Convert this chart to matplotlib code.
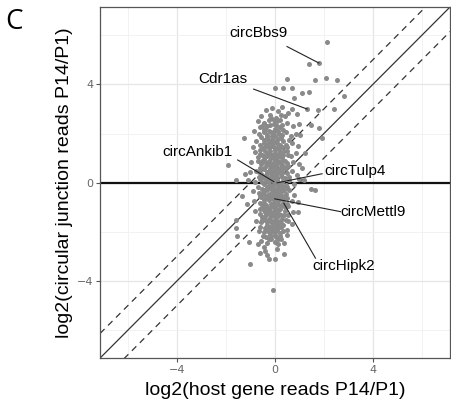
import numpy as np
import matplotlib.pyplot as plt

# log2 fold changes P14/P1: host gene (x) vs circular junction reads (y)
outer_x = [2.14, 1.80, 1.39, 0.51, 1.66, 2.11, 2.52, 0.00, 0.34, 0.72, 1.12, 1.40,
           0.78, 2.82, 1.32, 1.76, 2.41, 1.80, 1.49, 1.93, 1.05, -1.27, -1.90, -1.60,
           -1.13, -1.60, -1.60, -1.53, -0.99, -0.31, -0.24, 0.03, -0.07, 0.37, 0.37,
           0.50, 0.71, 0.95, 1.46, 1.66, 1.18, -1.20, -1.35, 1.10, 0.95, 1.25, -1.05]
outer_y = [5.74, 4.87, 4.84, 4.23, 4.16, 4.28, 4.16, 3.87, 3.87, 3.85, 3.65, 3.69,
           3.44, 3.51, 3.00, 2.97, 3.00, 2.22, 2.37, 1.82, 1.95, 1.82, 0.73, 0.12,
           -0.87, -1.50, -1.84, -2.18, -3.30, -2.93, -3.10, -3.10, -4.35, -2.45, -2.89,
           -1.91, -1.67, -0.78, -0.26, -0.31, 0.12, 0.35, -0.55, 0.60, -1.20, 1.20, -2.40]

core_upper = [
    (-0.35, 2.95), (-0.10, 3.05), (0.15, 2.90), (0.30, 3.10), (0.55, 2.85), (0.70, 3.00),
    (-0.55, 2.70), (-0.20, 2.75), (0.05, 2.65), (0.40, 2.70), (0.90, 2.80), (0.20, 2.55),
    (-0.70, 2.50), (-0.45, 2.45), (-0.25, 2.55), (-0.05, 2.40), (0.10, 2.50), (0.30, 2.35),
    (0.50, 2.45), (0.75, 2.30), (-0.60, 2.25), (-0.30, 2.30), (0.00, 2.20), (0.20, 2.25),
    (1.00, 2.40), (-0.85, 2.10), (-0.65, 2.00), (-0.45, 2.15), (-0.30, 1.95), (-0.15, 2.05),
    (0.00, 1.90), (0.15, 2.10), (0.30, 1.95), (0.45, 2.05), (0.65, 1.90), (0.85, 2.00),
    (-0.55, 1.85), (-0.10, 1.80), (0.25, 1.82), (-0.75, 1.70), (-0.60, 1.55), (-0.45, 1.75),
    (-0.35, 1.50), (-0.20, 1.65), (-0.05, 1.45), (0.05, 1.70), (0.20, 1.55), (0.35, 1.70),
    (0.50, 1.45), (0.70, 1.60), (0.95, 1.50), (-0.90, 1.45), (-0.25, 1.40), (0.10, 1.40),
    (0.60, 1.75), (-0.80, 1.25), (-0.60, 1.35), (-0.50, 1.15), (-0.40, 1.30), (-0.30, 1.10),
    (-0.20, 1.30), (-0.10, 1.15), (0.00, 1.35), (0.10, 1.05), (0.20, 1.25), (0.35, 1.15),
    (0.50, 1.30), (0.65, 1.10), (0.85, 1.20), (-0.70, 1.05), (-0.15, 1.00), (0.30, 1.00),
    (-0.95, 0.85), (-0.70, 0.90), (-0.55, 0.75), (-0.45, 0.95), (-0.35, 0.70), (-0.25, 0.90),
    (-0.15, 0.65), (-0.05, 0.85), (0.05, 0.70), (0.15, 0.90), (0.25, 0.75), (0.40, 0.90),
    (0.55, 0.70), (0.75, 0.85), (1.00, 0.75), (-0.60, 0.60), (0.10, 0.60), (0.45, 0.60),
    (-1.00, 0.45), (-0.75, 0.50), (-0.55, 0.35), (-0.45, 0.55), (-0.35, 0.30), (-0.25, 0.50),
    (-0.15, 0.35), (-0.05, 0.55), (0.05, 0.30), (0.15, 0.50), (0.25, 0.35), (0.35, 0.55),
    (0.50, 0.40), (0.70, 0.50), (0.90, 0.30), (-0.65, 0.25), (0.00, 0.20), (0.60, 0.25),
    (-0.38, 2.20), (-0.18, 2.35), (0.08, 2.30), (-0.28, 1.75), (-0.08, 1.60), (0.12, 1.80),
    (0.28, 1.45), (-0.42, 1.60), (-0.22, 1.20), (0.02, 1.20), (0.22, 1.10), (-0.38, 0.85),
    (-0.18, 0.78), (0.02, 0.95), (0.20, 0.62), (-0.30, 0.45), (-0.10, 0.42), (0.10, 0.40),
    (0.30, 0.25),
]

core_lower = [
    (-1.10, 0.10), (-0.80, 0.05), (-0.60, 0.15), (-0.45, -0.05), (-0.35, 0.10), (-0.20, -0.10),
    (-0.10, 0.10), (0.00, -0.05), (0.10, 0.12), (0.20, -0.10), (0.30, 0.05), (0.45, -0.10),
    (0.60, 0.10), (0.80, -0.05), (-0.70, -0.15), (0.35, -0.18), (1.00, 0.15), (-0.90, -0.35),
    (-0.65, -0.40), (-0.50, -0.25), (-0.40, -0.50), (-0.30, -0.30), (-0.20, -0.45), (-0.10, -0.25),
    (0.00, -0.50), (0.10, -0.30), (0.20, -0.50), (0.30, -0.35), (0.45, -0.45), (0.60, -0.30),
    (0.80, -0.50), (-0.55, -0.58), (0.05, -0.60), (0.50, -0.60), (-0.85, -0.75), (-0.60, -0.80),
    (-0.45, -0.70), (-0.35, -0.90), (-0.25, -0.70), (-0.15, -0.85), (-0.05, -0.70), (0.05, -0.90),
    (0.15, -0.75), (0.25, -0.95), (0.35, -0.70), (0.50, -0.85), (0.70, -0.75), (-0.50, -0.98),
    (0.00, -1.00), (0.40, -1.00), (-0.80, -1.15), (-0.60, -1.25), (-0.45, -1.10), (-0.35, -1.30),
    (-0.25, -1.10), (-0.15, -1.35), (-0.05, -1.15), (0.05, -1.30), (0.15, -1.10), (0.25, -1.30),
    (0.40, -1.15), (0.55, -1.30), (0.75, -1.20), (-0.50, -1.40), (0.10, -1.40), (-0.75, -1.55),
    (-0.55, -1.60), (-0.40, -1.50), (-0.30, -1.70), (-0.20, -1.50), (-0.10, -1.65), (0.00, -1.50),
    (0.10, -1.70), (0.20, -1.55), (0.35, -1.70), (0.55, -1.55), (-0.60, -1.78), (-0.05, -1.80),
    (0.25, -1.80), (-0.65, -1.95), (-0.45, -2.00), (-0.30, -1.90), (-0.20, -2.10), (-0.10, -1.95),
    (0.00, -2.10), (0.10, -1.90), (0.20, -2.05), (0.35, -1.95), (0.50, -2.10), (-0.35, -2.20),
    (0.05, -2.20), (-0.55, -2.35), (-0.30, -2.45), (-0.15, -2.30), (0.00, -2.40), (0.15, -2.50),
    (-0.45, -2.60), (0.25, -2.30), (-0.70, -2.50), (-0.40, -2.75), (0.10, -2.70), (-0.60, -2.85),
    (-0.25, 0.20), (-0.05, 0.05), (0.15, -0.02), (-0.30, -0.15), (-0.12, -0.38), (0.08, -0.42),
    (0.28, -0.55), (-0.35, -0.62), (-0.10, -0.58), (0.12, -0.62), (-0.30, -1.00), (-0.08, -0.95),
    (0.18, -0.90), (-0.40, -1.20), (-0.12, -1.22), (0.08, -1.20), (0.30, -1.45), (-0.25, -1.45),
    (-0.05, -1.35), (0.15, -1.60), (-0.18, -1.80), (0.02, -1.75), (-0.40, -1.85), (-0.25, -2.30),
    (0.12, -2.30),
]

# tightly packed centre of the cloud
core_dense = [
    (-0.42, 2.05), (-0.22, 2.12), (-0.02, 2.05), (0.18, 1.98), (-0.32, 1.85), (-0.12, 1.92),
    (0.08, 1.62), (-0.48, 1.42), (-0.28, 1.58), (-0.12, 1.48), (0.18, 1.38), (0.38, 1.28),
    (-0.42, 1.08), (-0.32, 1.22), (-0.08, 1.05), (0.12, 1.15), (0.28, 0.88), (-0.52, 0.88),
    (-0.28, 0.78), (-0.08, 0.72), (0.08, 0.82), (0.32, 0.68), (-0.42, 0.62), (-0.18, 0.55),
    (0.02, 0.48), (0.22, 0.48), (-0.48, 0.22), (-0.32, 0.38), (-0.12, 0.22), (0.08, 0.22),
    (0.28, 0.42), (0.42, 0.18), (-0.52, 0.05), (-0.28, 0.02), (-0.08, -0.12), (0.12, -0.18),
    (0.28, -0.12), (-0.42, -0.28), (-0.22, -0.22), (0.02, -0.28), (0.22, -0.28), (0.38, -0.28),
    (-0.48, -0.42), (-0.28, -0.48), (-0.05, -0.42), (0.15, -0.45), (0.38, -0.58), (-0.42, -0.82),
    (-0.22, -0.62), (-0.02, -0.82), (0.18, -0.62), (0.32, -0.82), (-0.48, -0.88), (-0.18, -1.02),
    (0.02, -1.12), (0.22, -1.05), (-0.38, -1.02), (-0.28, -1.22), (-0.02, -1.28), (0.18, -1.25),
    (0.38, -1.32), (-0.42, -1.38), (-0.15, -1.55), (0.05, -1.58), (0.25, -1.62), (-0.32, -1.58),
    (-0.52, -1.52), (-0.08, -1.82), (0.12, -1.85), (-0.28, -1.82), (-0.22, -1.98), (0.02, -1.98),
    (-0.15, -2.18), (-0.48, -2.15), (0.22, -2.18), (-0.05, 2.55), (0.25, 2.75), (-0.15, 2.62),
    (-0.50, 2.30), (0.35, 2.15), (0.45, 1.55), (0.55, 1.15), (0.48, 0.82), (0.50, -0.15),
    (0.55, -0.95), (0.45, -1.50), (-0.62, -1.08), (-0.62, -0.52), (-0.65, 0.45), (-0.62, 1.18),
]

# labelled circRNAs: name, text position, line start, point
labels = ['circBbs9', 'Cdr1as', 'circAnkib1', 'circTulp4', 'circMettl9', 'circHipk2']
text_xy = [(-0.68, 6.11), (-2.10, 4.23), (-3.13, 1.27), (3.27, 0.50), (4.02, -1.18), (2.82, -3.40)]
line_from = [(0.50, 5.54), (-0.86, 3.81), (-1.51, 0.93), (1.93, 0.37), (2.68, -1.17), (1.66, -3.06)]
line_to = [(1.80, 4.87), (1.32, 3.00), (-0.04, 0.05), (0.10, 0.00), (0.00, -0.65), (0.37, -0.83)]

lim = (-7.12, 7.15)
grey = '#8a8a8a'

fig = plt.figure(figsize=(4.51, 4.08), dpi=100)
ax = fig.add_axes([0.222, 0.1225, 0.776, 0.8605])

core = np.array(core_upper + core_lower + core_dense)
ax.scatter(core[:, 0], core[:, 1], s=13, c=grey, linewidths=0, zorder=3)
ax.scatter(outer_x, outer_y, s=13, c=grey, linewidths=0, zorder=3)

xs = np.array(lim)
ax.plot(xs, xs, color='#333333', lw=0.9, zorder=2)
ax.plot(xs, xs + 1, color='#333333', lw=0.9, ls=(0, (5, 4)), zorder=2)
ax.plot(xs, xs - 1, color='#333333', lw=0.9, ls=(0, (5, 4)), zorder=2)
ax.axhline(0, color='#111111', lw=1.6, zorder=2)

for name, t, a, b in zip(labels, text_xy, line_from, line_to):
    ax.plot([a[0], b[0]], [a[1], b[1]], color='#222222', lw=0.8, zorder=4)
    ax.text(t[0], t[1], name, fontsize=11, ha='center', va='center',
            family='Liberation Sans', zorder=5)

ax.set_xlim(lim)
ax.set_ylim(lim)
ax.set_xticks([-4, 0, 4])
ax.set_yticks([-4, 0, 4])
ax.set_xticks([-6, -2, 2, 6], minor=True)
ax.set_yticks([-6, -2, 2, 6], minor=True)
ax.grid(which='major', color='#e6e6e6', lw=0.9)
ax.grid(which='minor', color='#f0f0f0', lw=0.6)
ax.set_axisbelow(True)
ax.tick_params(which='major', length=3, width=0.8, color='#555555',
               labelsize=8, labelcolor='#666666', pad=2)
ax.tick_params(which='minor', length=0)
for s in ax.spines.values():
    s.set_color('#555555')
    s.set_linewidth(0.9)

ax.set_xlabel('log2(host gene reads P14/P1)', fontsize=14, family='Liberation Sans', labelpad=5)
ax.set_ylabel('log2(circular junction reads P14/P1)', fontsize=14, family='Liberation Sans', labelpad=3)

fig.text(0.012, 0.945, 'C', fontsize=20, family='Open Sans', ha='left', va='center')

fig.savefig('out.png', dpi=100)
